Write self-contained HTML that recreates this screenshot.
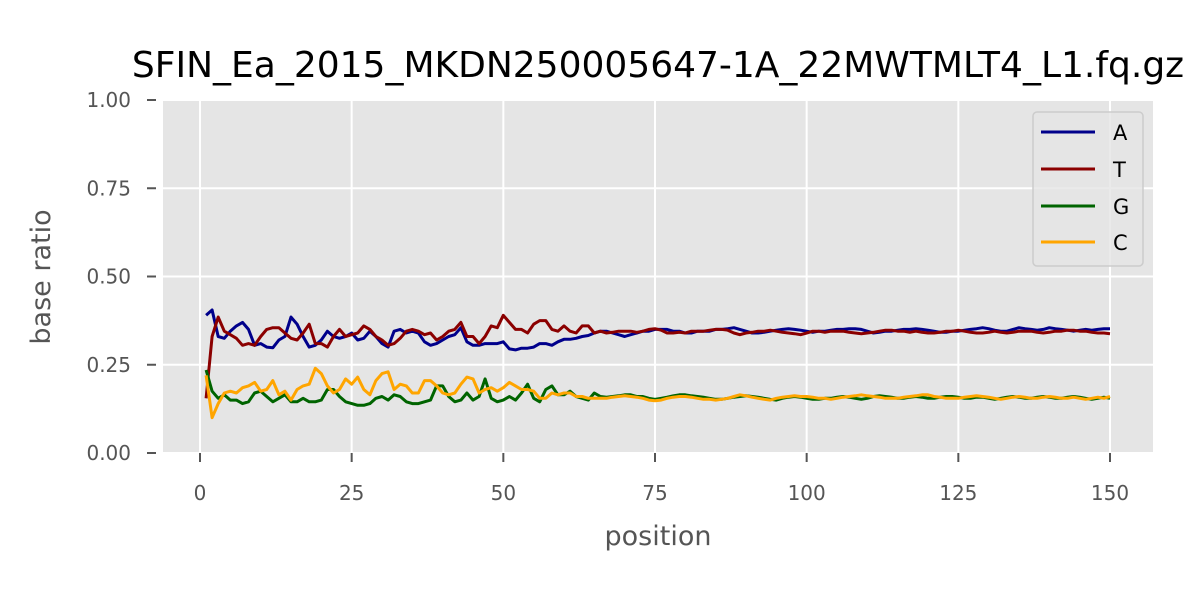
<!DOCTYPE html>
<html><head><meta charset="utf-8">
<style>
body{margin:0;background:#fff;}
svg{display:block;font-family:"DejaVu Sans","Liberation Sans",sans-serif;}
</style></head>
<body>
<svg id="chart" width="1200" height="600" viewBox="0 0 1200 600" xmlns="http://www.w3.org/2000/svg">
<rect x="0" y="0" width="1200" height="600" fill="#fff"/>
<text x="658" y="77" font-size="36" text-anchor="middle" fill="#000">SFIN_Ea_2015_MKDN250005647-1A_22MWTMLT4_L1.fq.gz</text>
<rect x="163" y="100" width="990" height="353" fill="#e5e5e5"/>
<g id="grid"></g>
<g id="axes"></g>
<g id="series"></g>
<text x="658" y="545" font-size="27" text-anchor="middle" fill="#555">position</text>
<text x="50" y="277" font-size="27" text-anchor="middle" fill="#555" transform="rotate(-90 50 277)">base ratio</text>
<g font-size="21">
<rect x="1033" y="112" width="110" height="154" rx="4" fill="#e5e5e5" fill-opacity="0.8" stroke="#ccc" stroke-width="1.5"/>
<g><line x1="1041" y1="132" x2="1095" y2="132" stroke="#00008b" stroke-width="3"/><text x="1113" y="140">A</text></g>
<g><line x1="1041" y1="169" x2="1095" y2="169" stroke="#8b0000" stroke-width="3"/><text x="1113" y="177">T</text></g>
<g><line x1="1041" y1="206" x2="1095" y2="206" stroke="#006400" stroke-width="3"/><text x="1113" y="214">G</text></g>
<g><line x1="1041" y1="242" x2="1095" y2="242" stroke="#ffa500" stroke-width="3"/><text x="1113" y="250">C</text></g>
</g>
</svg>
<script>
const xTicks=[0,25,50,75,100,125,150];
const yTicks=[0,0.25,0.5,0.75,1.0];
const yTickLabels=["0.00","0.25","0.50","0.75","1.00"];
const seriesA=[0.39,0.405,0.33,0.325,0.345,0.36,0.37,0.35,0.305,0.31,0.30,0.298,0.32,0.33,0.385,0.365,0.33,0.30,0.305,0.32,0.345,0.33,0.325,0.33,0.34,0.32,0.325,0.345,0.33,0.31,0.30,0.345,0.35,0.34,0.345,0.34,0.315,0.305,0.31,0.32,0.33,0.335,0.355,0.315,0.305,0.305,0.31,0.31,0.31,0.315,0.295,0.292,0.297,0.297,0.30,0.31,0.31,0.305,0.315,0.322,0.322,0.325,0.33,0.333,0.34,0.345,0.345,0.34,0.335,0.33,0.335,0.34,0.345,0.345,0.35,0.35,0.35,0.345,0.345,0.34,0.34,0.345,0.345,0.345,0.35,0.35,0.352,0.355,0.35,0.345,0.34,0.34,0.342,0.345,0.348,0.35,0.352,0.35,0.348,0.345,0.342,0.345,0.345,0.348,0.35,0.35,0.352,0.352,0.35,0.345,0.34,0.342,0.345,0.345,0.348,0.35,0.35,0.352,0.35,0.348,0.345,0.342,0.342,0.345,0.345,0.348,0.35,0.352,0.355,0.352,0.348,0.345,0.345,0.35,0.355,0.352,0.35,0.348,0.35,0.355,0.352,0.35,0.348,0.345,0.348,0.35,0.348,0.35,0.352,0.352];
const seriesT=[0.155,0.33,0.385,0.345,0.335,0.325,0.305,0.31,0.305,0.33,0.35,0.355,0.355,0.34,0.325,0.32,0.34,0.365,0.31,0.31,0.30,0.33,0.35,0.33,0.335,0.34,0.36,0.35,0.33,0.32,0.305,0.31,0.325,0.345,0.35,0.345,0.335,0.34,0.32,0.33,0.345,0.35,0.37,0.33,0.33,0.31,0.33,0.36,0.355,0.39,0.37,0.35,0.35,0.34,0.365,0.375,0.375,0.35,0.345,0.36,0.345,0.34,0.36,0.36,0.34,0.345,0.34,0.342,0.345,0.345,0.345,0.342,0.345,0.35,0.352,0.348,0.34,0.34,0.342,0.34,0.345,0.345,0.345,0.348,0.35,0.35,0.348,0.34,0.335,0.34,0.342,0.345,0.345,0.348,0.345,0.342,0.34,0.338,0.335,0.34,0.345,0.345,0.342,0.345,0.345,0.345,0.342,0.34,0.338,0.34,0.342,0.345,0.348,0.348,0.345,0.345,0.342,0.345,0.342,0.34,0.34,0.342,0.345,0.345,0.348,0.345,0.342,0.34,0.34,0.342,0.345,0.342,0.34,0.342,0.345,0.345,0.345,0.342,0.34,0.342,0.345,0.345,0.348,0.348,0.345,0.345,0.342,0.34,0.34,0.338];
const seriesG=[0.235,0.175,0.155,0.165,0.15,0.15,0.14,0.145,0.17,0.175,0.16,0.145,0.155,0.165,0.145,0.145,0.155,0.145,0.145,0.15,0.18,0.18,0.16,0.145,0.14,0.135,0.135,0.14,0.155,0.16,0.15,0.165,0.16,0.145,0.14,0.14,0.145,0.15,0.19,0.19,0.16,0.145,0.15,0.17,0.15,0.16,0.21,0.155,0.145,0.15,0.16,0.15,0.17,0.195,0.155,0.145,0.18,0.19,0.165,0.165,0.175,0.16,0.155,0.15,0.17,0.16,0.158,0.16,0.162,0.165,0.165,0.16,0.16,0.155,0.152,0.155,0.158,0.162,0.165,0.165,0.162,0.16,0.158,0.155,0.152,0.152,0.155,0.158,0.16,0.162,0.16,0.158,0.155,0.152,0.15,0.155,0.158,0.16,0.158,0.155,0.152,0.152,0.155,0.155,0.158,0.16,0.158,0.155,0.152,0.155,0.16,0.162,0.16,0.158,0.155,0.155,0.158,0.16,0.158,0.155,0.155,0.158,0.16,0.16,0.158,0.155,0.155,0.158,0.158,0.155,0.152,0.155,0.158,0.16,0.158,0.155,0.155,0.158,0.16,0.158,0.155,0.155,0.158,0.16,0.158,0.155,0.152,0.155,0.158,0.155];
const seriesC=[0.22,0.10,0.14,0.17,0.175,0.17,0.185,0.19,0.2,0.175,0.18,0.205,0.165,0.175,0.15,0.18,0.19,0.195,0.24,0.225,0.19,0.17,0.18,0.21,0.195,0.215,0.18,0.165,0.205,0.225,0.23,0.18,0.195,0.19,0.17,0.17,0.205,0.205,0.19,0.17,0.165,0.17,0.195,0.215,0.21,0.17,0.18,0.185,0.175,0.185,0.2,0.19,0.18,0.18,0.175,0.155,0.155,0.17,0.165,0.17,0.17,0.16,0.16,0.155,0.155,0.155,0.155,0.158,0.16,0.162,0.16,0.158,0.155,0.15,0.148,0.15,0.155,0.158,0.16,0.16,0.158,0.155,0.152,0.152,0.15,0.152,0.155,0.16,0.165,0.162,0.158,0.155,0.152,0.15,0.155,0.158,0.16,0.162,0.16,0.16,0.158,0.155,0.155,0.152,0.155,0.158,0.16,0.162,0.165,0.162,0.16,0.158,0.155,0.155,0.155,0.158,0.16,0.162,0.165,0.165,0.16,0.158,0.155,0.155,0.155,0.158,0.16,0.162,0.16,0.158,0.155,0.152,0.155,0.158,0.16,0.158,0.155,0.155,0.158,0.16,0.158,0.155,0.155,0.158,0.155,0.152,0.155,0.158,0.155,0.16];
const seriesNames=["A","T","G","C"];
const seriesColors=["#00008b","#8b0000","#006400","#ffa500"];

const NS="http://www.w3.org/2000/svg";
function xScale(p){return 200+p*(910/150);}
function yScale(v){return 453-v*353;}
const grid=document.getElementById('grid'),axes=document.getElementById('axes'),ser=document.getElementById('series');
function mk(tag,attrs,parent){const e=document.createElementNS(NS,tag);for(const k in attrs)e.setAttribute(k,attrs[k]);parent.appendChild(e);return e;}
xTicks.forEach(t=>{
  const x=xScale(t);
  const g=mk('line',{x1:x,y1:100,x2:x,y2:453,stroke:'#fff','stroke-width':2},grid);
  
  
  const tk=mk('line',{x1:x,y1:453,x2:x,y2:462,stroke:'#555','stroke-width':2},axes);
  
  
  const l=mk('text',{x:x,y:500,'font-size':20,'text-anchor':'middle',fill:'#555'},axes);
  l.textContent=String(t);
  
  
});
yTicks.forEach((t,i)=>{
  const y=yScale(t);
  const g=mk('line',{x1:163,y1:y,x2:1153,y2:y,stroke:'#fff','stroke-width':2},grid);
  
  
  const tk=mk('line',{x1:147,y1:y,x2:156,y2:y,stroke:'#555','stroke-width':2},axes);
  
  
  const l=mk('text',{x:131,y:y+7,'font-size':20,'text-anchor':'end',fill:'#555'},axes);
  l.textContent=yTickLabels[i];
  
  
});
[seriesA,seriesT,seriesG,seriesC].forEach((s,i)=>{
  const pts=s.map((v,j)=>xScale(j+1).toFixed(1)+','+yScale(v).toFixed(1)).join(' ');
  const pl=mk('polyline',{points:pts,fill:'none',stroke:seriesColors[i],'stroke-width':3,'stroke-linejoin':'round'},ser);
  
  
});
</script>
</body></html>
